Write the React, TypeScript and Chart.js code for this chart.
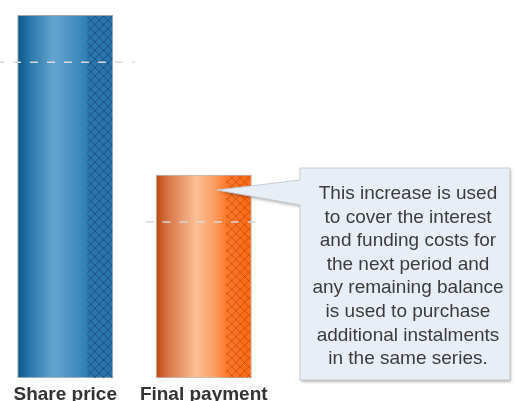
import React, { useEffect, useRef } from "react";
import { Chart, registerables } from "chart.js";

Chart.register(...registerables);

// ---- data ----
const categories = ["Share price", "Final payment"];
const barValues = [100, 56];
const referenceLevels = [87, 43];
const referenceStart = [-0.5, 0.58];
const referenceEnd = [0.5, 1.42];
const calloutLines = [
  "This increase is used",
  "to cover the interest",
  "and funding costs for",
  "the next period and",
  "any remaining balance",
  "is used to purchase",
  "additional instalments",
  "in the same series.",
];

// ---- styles ----
const FONT = '"Liberation Sans", Arial, Helvetica, sans-serif';
const CANVAS_LEFT = -4;
const CANVAS_W = 525;
const CANVAS_H = 411;
const BAR_FRACTION = 0.693;
const GRADIENTS: [number, string][][] = [
  [
    [0, "#0a5484"],
    [0.14, "#2a79ae"],
    [0.38, "#64a5cf"],
    [0.55, "#4d93c2"],
    [0.73, "#2f7eb5"],
    [1, "#2b7ab1"],
  ],
  [
    [0, "#bf4811"],
    [0.14, "#d9794a"],
    [0.42, "#fcbf95"],
    [0.6, "#fb9f66"],
    [0.73, "#ff7d30"],
    [1, "#ff6c16"],
  ],
];
const HATCH_LINE = ["rgba(8,45,85,0.45)", "rgba(150,55,0,0.45)"];
const HATCH_TINT = ["rgba(0,40,90,0.08)", "rgba(200,70,0,0.08)"];

const CALLOUT = {
  left: 300,
  top: 168,
  right: 510,
  bottom: 380,
  tipX: 217,
  tipY: 190,
  joinTop: 180,
  joinBottom: 205,
  textX: 408,
  firstBaseline: 199,
  lineGap: 23.6,
};

const hatchPlugin = {
  id: "hatch",
  afterDatasetDraw(chart: any, args: any) {
    const ds = chart.data.datasets[args.index];
    if (ds.type !== "bar") return;
    const ctx = chart.ctx;
    args.meta.data.forEach((el: any, i: number) => {
      const { x, y, base, width } = el.getProps(["x", "y", "base", "width"], true);
      const left = x - width / 2;
      const right = x + width / 2;
      const hx = left + width * 0.73;
      const h = base - y;
      ctx.save();
      ctx.beginPath();
      ctx.rect(hx, y + 1, right - hx - 1, h - 1);
      ctx.clip();
      ctx.fillStyle = HATCH_TINT[i];
      ctx.fillRect(hx, y, right - hx, h);
      ctx.strokeStyle = HATCH_LINE[i];
      ctx.lineWidth = 1;
      const step = 8.6;
      ctx.beginPath();
      for (let k = -h - step; k < right - hx + h + step; k += step) {
        ctx.moveTo(hx + k, y);
        ctx.lineTo(hx + k + h, base);
        ctx.moveTo(hx + k, base);
        ctx.lineTo(hx + k + h, y);
      }
      ctx.stroke();
      ctx.restore();
    });
  },
};

const calloutPlugin = {
  id: "callout",
  afterDraw(chart: any) {
    const ctx = chart.ctx;
    const o = -CANVAS_LEFT;
    const c = CALLOUT;
    ctx.save();
    ctx.beginPath();
    ctx.moveTo(c.left + o, c.top);
    ctx.lineTo(c.right + o, c.top);
    ctx.lineTo(c.right + o, c.bottom);
    ctx.lineTo(c.left + o, c.bottom);
    ctx.lineTo(c.left + o, c.joinBottom);
    ctx.lineTo(c.tipX + o, c.tipY);
    ctx.lineTo(c.left + o, c.joinTop);
    ctx.closePath();
    ctx.shadowColor = "rgba(0,0,0,0.28)";
    ctx.shadowBlur = 3;
    ctx.shadowOffsetX = 1;
    ctx.shadowOffsetY = 2;
    ctx.fillStyle = "#e8eef6";
    ctx.fill();
    ctx.shadowColor = "transparent";
    ctx.strokeStyle = "#c6cbd2";
    ctx.lineWidth = 1;
    ctx.stroke();
    ctx.fillStyle = "#3c3c3c";
    ctx.font = `19px ${FONT}`;
    ctx.textAlign = "center";
    ctx.textBaseline = "alphabetic";
    calloutLines.forEach((line, i) => {
      ctx.fillText(line, c.textX + o, c.firstBaseline + i * c.lineGap);
    });
    ctx.restore();
  },
};

export default function App() {
  const ref = useRef<HTMLCanvasElement>(null);
  useEffect(() => {
    const canvas = ref.current;
    if (!canvas) return;
    const chart = new Chart(canvas, {
      type: "bar",
      data: {
        labels: categories,
        datasets: [
          ...referenceLevels.map((lvl, i) => ({
            type: "line" as const,
            data: [
              { x: referenceStart[i], y: lvl },
              { x: referenceEnd[i], y: lvl },
            ],
            xAxisID: "x2",
            yAxisID: "y",
            borderColor: "#d8d8d8",
            borderWidth: 1.6,
            borderDash: [8, 9],
            pointRadius: 0,
            fill: false,
            order: 0,
          })),
          {
            type: "bar" as const,
            data: barValues,
            xAxisID: "x",
            yAxisID: "y",
            backgroundColor: (context: any) => {
              const chartRef = context.chart;
              const xs = chartRef.scales.x;
              const idx = context.dataIndex ?? 0;
              if (!chartRef.chartArea || !xs) return GRADIENTS[idx][3][1];
              const center = xs.getPixelForValue(idx);
              const half = ((xs.width / categories.length) * BAR_FRACTION) / 2;
              const g = chartRef.ctx.createLinearGradient(center - half, 0, center + half, 0);
              GRADIENTS[idx].forEach(([s, col]) => g.addColorStop(s, col));
              return g;
            },
            borderColor: "rgba(95,95,95,0.55)",
            borderWidth: 1,
            borderSkipped: false,
            grouped: false,
            categoryPercentage: 1,
            barPercentage: BAR_FRACTION,
            order: 1,
          },
        ],
      } as any,
      options: {
        responsive: false,
        animation: false,
        layout: { padding: { top: 15, right: 248, left: 0, bottom: 0 } },
        plugins: { legend: { display: false }, tooltip: { enabled: false } },
        scales: {
          x: {
            type: "category",
            offset: true,
            grid: { display: false, drawTicks: false },
            border: { display: false },
            ticks: {
              font: { family: FONT, size: 19, weight: "bold" },
              color: "#333333",
              padding: 5,
              maxRotation: 0,
              autoSkip: false,
            },
          },
          x2: {
            type: "linear",
            display: false,
            offset: false,
            min: -0.5,
            max: 1.5,
            grid: { offset: false },
          },
          y: { display: false, min: 0, max: 100 },
        },
      } as any,
      plugins: [hatchPlugin, calloutPlugin],
    });
    return () => chart.destroy();
  }, []);

  return (
    <div
      style={{
        position: "fixed",
        left: 0,
        top: 0,
        width: 517,
        height: 401,
        overflow: "hidden",
        background: "#ffffff",
      }}
    >
      <canvas
        ref={ref}
        width={CANVAS_W}
        height={CANVAS_H}
        style={{ position: "absolute", left: CANVAS_LEFT, top: 0, width: CANVAS_W, height: CANVAS_H }}
      />
    </div>
  );
}
